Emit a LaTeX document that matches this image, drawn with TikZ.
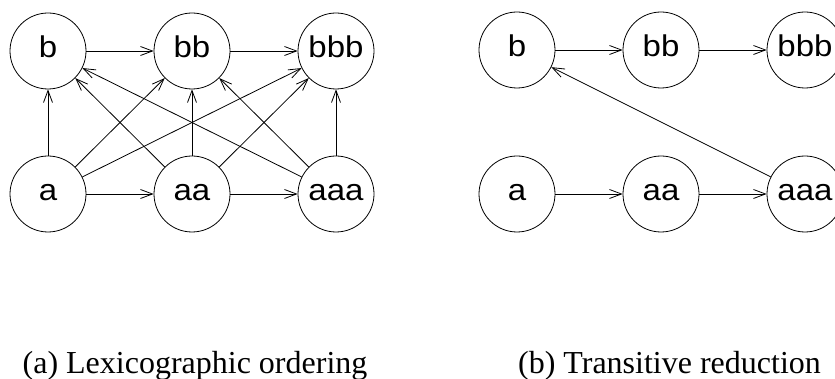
\documentclass[tikz,border=0pt]{standalone}
\usepackage{graphicx}
\usepackage{fontspec}
\setmainfont{Liberation Serif}
\newfontfamily\labelfont{Liberation Sans}
\usetikzlibrary{arrows.meta}
\tikzset{
  vert/.style={draw, circle, minimum size=76pt, inner sep=0pt, line width=0.8pt,
    font=\labelfont\fontsize{30}{30}\selectfont, text height=14pt, text depth=0pt},
  edge/.style={line width=0.8pt, -{Straight Barb[length=12pt,width=9pt]}},
  captext/.style={font=\fontsize{32}{32}\selectfont, anchor=base, inner sep=0pt}
}
\newcommand{\lbl}[1]{\scalebox{1.1}[1]{#1}}
\begin{document}
\begin{tikzpicture}[x=1pt,y=-1pt]
\useasboundingbox (0,0) rectangle (835,379);
% (a)
\node[vert] (b1)   at (48,51)  {\lbl{b}};
\node[vert] (bb1)  at (192,51) {\lbl{bb}};
\node[vert] (bbb1) at (336,51) {\lbl{bbb}};
\node[vert] (a1)   at (48,194)  {\lbl{a}};
\node[vert] (aa1)  at (192,194) {\lbl{aa}};
\node[vert] (aaa1) at (336,194) {\lbl{aaa}};
\draw[edge] (b1) -- (bb1);
\draw[edge] (bb1) -- (bbb1);
\draw[edge] (a1) -- (aa1);
\draw[edge] (aa1) -- (aaa1);
\draw[edge] (a1) -- (b1);
\draw[edge] (a1) -- (bb1);
\draw[edge] (a1) -- (bbb1);
\draw[edge] (aa1) -- (b1);
\draw[edge] (aa1) -- (bb1);
\draw[edge] (aa1) -- (bbb1);
\draw[edge] (aaa1) -- (b1);
\draw[edge] (aaa1) -- (bb1);
\draw[edge] (aaa1) -- (bbb1);
% (b)
\node[vert] (b2)   at (517,50)  {\lbl{b}};
\node[vert] (bb2)  at (661,50)  {\lbl{bb}};
\node[vert] (bbb2) at (805,50)  {\lbl{bbb}};
\node[vert] (a2)   at (517,194) {\lbl{a}};
\node[vert] (aa2)  at (661,194) {\lbl{aa}};
\node[vert] (aaa2) at (805,194) {\lbl{aaa}};
\draw[edge] (b2) -- (bb2);
\draw[edge] (bb2) -- (bbb2);
\draw[edge] (a2) -- (aa2);
\draw[edge] (aa2) -- (aaa2);
\draw[edge] (aaa2) -- (b2);
% captions
\node[captext] (capa) at (195,373) {(a) Lexicographic ordering};
\node[captext] (capb) at (669.5,373) {(b) Transitive reduction};
\end{tikzpicture}
\end{document}
